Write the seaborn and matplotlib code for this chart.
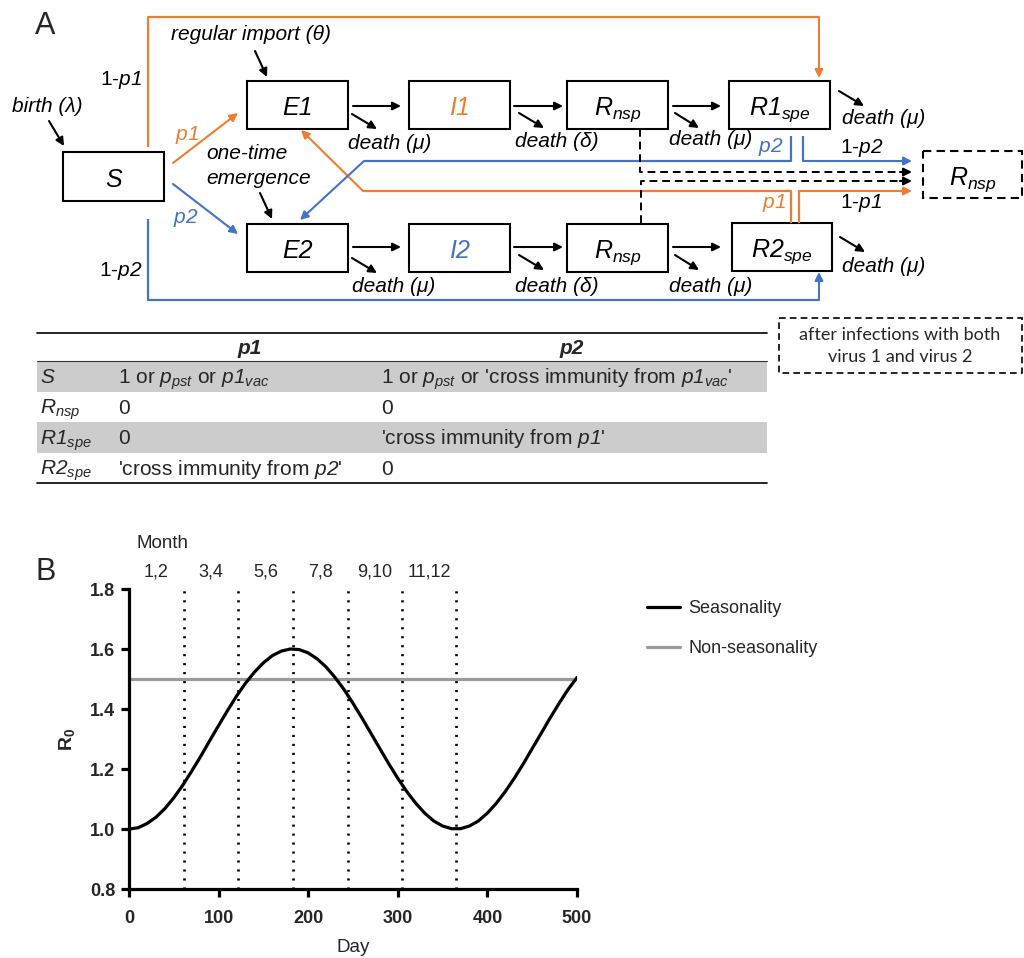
import numpy as np
import pandas as pd
import matplotlib
matplotlib.use('Agg')
import matplotlib.pyplot as plt
import matplotlib.transforms as mtransforms
from matplotlib.patches import Rectangle
import seaborn as sns

# ---------------- data (panel B) ----------------
days = list(range(0, 501, 10))
r0_seasonal = [1.000, 1.004, 1.018, 1.039, 1.068, 1.104, 1.146, 1.193, 1.242, 1.294,
               1.345, 1.395, 1.443, 1.486, 1.523, 1.554, 1.578, 1.593, 1.600, 1.598,
               1.587, 1.567, 1.540, 1.505, 1.465, 1.419, 1.370, 1.319, 1.268, 1.217,
               1.169, 1.125, 1.086, 1.053, 1.027, 1.010, 1.001, 1.001, 1.010, 1.027,
               1.053, 1.086, 1.125, 1.169, 1.217, 1.268, 1.319, 1.370, 1.419, 1.465, 1.505]
days_nonseasonal = [0, 500]
r0_nonseasonal = [1.5, 1.5]
series_names = ['Seasonality', 'Non-seasonality']
month_bounds = [61, 122, 183, 244, 305, 365]
month_labels = ['1,2', '3,4', '5,6', '7,8', '9,10', '11,12']
x_ticks = [0, 100, 200, 300, 400, 500]
y_ticks = [0.8, 1.0, 1.2, 1.4, 1.6, 1.8]

# ---------------- data (panel A table) ----------------
table_cols = ['p1', 'p2']
table_rows = ['$S$', '$R_{nsp}$', '$R1_{spe}$', '$R2_{spe}$']
table_p1 = ["1 or $p_{pst}$ or $p1_{vac}$", '0', '0', "'cross immunity from $p2$'"]
table_p2 = ["1 or $p_{pst}$ or 'cross immunity from $p1_{vac}$'", '0',
            "'cross immunity from $p1$'", '0']

sns.set_theme(style='ticks')
plt.rcParams['font.family'] = ['Liberation Sans', 'DejaVu Sans']
plt.rcParams['mathtext.fontset'] = 'custom'
plt.rcParams['mathtext.rm'] = 'Liberation Sans:italic'
plt.rcParams['mathtext.it'] = 'Liberation Sans:italic'
plt.rcParams['mathtext.bf'] = 'Liberation Sans:bold'

ORANGE = '#ED7D31'
BLUE = '#4472C4'

fig = plt.figure(figsize=(10.24, 9.58), dpi=100)
dg = fig.add_axes([0, 0, 1, 1])
dg.set_xlim(0, 1024)
dg.set_ylim(958, 0)
dg.axis('off')


def box(x0, y0, x1, y1, label, color='black', dashed=False, fs=18):
    dg.add_patch(Rectangle((x0, y0), x1 - x0, y1 - y0, fill=False, ec='black',
                           lw=1.5, ls=(0, (4, 2.5)) if dashed else '-'))
    dg.text((x0 + x1) / 2, (y0 + y1) / 2 + 10, label, ha='center', va='baseline',
            fontsize=fs, color=color, style='italic')


def arrow(x0, y0, x1, y1, color='black', lw=1.5, ms=12):
    dg.annotate('', xy=(x1, y1), xytext=(x0, y0),
                arrowprops=dict(arrowstyle='-|>', color=color, lw=lw, shrinkA=0,
                                shrinkB=0, mutation_scale=ms))


def poly(pts, color, lw=1.6, ls='-'):
    xs, ys = zip(*pts)
    dg.plot(xs, ys, color=color, lw=lw, ls=ls, solid_capstyle='butt')


def label(x, y, s, color='black', fs=15, style='italic', ha='left'):
    dg.text(x, y, s, color=color, fontsize=fs, style=style, ha=ha, va='center')


# panel letters
dg.text(45, 26, 'A', fontsize=22, ha='center', va='center')
dg.text(46, 572, 'B', fontsize=22, ha='center', va='center')

# boxes
box(63, 152, 164, 201, 'S')
box(247, 81, 348, 129, 'E1')
box(409, 81, 510, 129, 'I1', color=ORANGE)
box(567, 81, 668, 129, '$R_{nsp}$')
box(729, 81, 830, 129, '$R1_{spe}$')
box(247, 224, 348, 272, 'E2')
box(409, 224, 510, 272, 'I2', color=BLUE)
box(567, 224, 668, 272, '$R_{nsp}$')
box(732, 223, 832, 271, '$R2_{spe}$')
box(923, 151, 1022, 198, '$R_{nsp}$', dashed=True)

# horizontal flow arrows
for yy in (106, 247):
    arrow(353, yy, 401, yy)
    arrow(514, yy, 563, yy)
    arrow(673, yy, 721, yy)

# death arrows and labels
arrow(352, 114, 377, 129); label(348, 143, 'death (μ)')
arrow(519, 113, 544, 128); label(515, 141, 'death (δ)')
arrow(675, 113, 699, 128); label(669, 139, 'death (μ)')
arrow(839, 91, 864, 106); label(842, 118, 'death (μ)')
arrow(352, 258, 377, 273); label(352, 287, 'death (μ)')
arrow(519, 255, 544, 270); label(515, 287, 'death (δ)')
arrow(675, 255, 699, 270); label(669, 287, 'death (μ)')
arrow(840, 237, 865, 252); label(842, 267, 'death (μ)')

# inputs
arrow(49, 121, 64, 146); label(12, 106, 'birth (λ)')
arrow(255, 51, 267, 77); label(171, 34, 'regular import (θ)')
arrow(260, 193, 272, 219); label(206, 153, 'one-time'); label(206, 178, 'emergence')

# S -> E1 / E2
arrow(173, 163, 238, 113, color=ORANGE); label(175, 135, '$p1$', color=ORANGE)
arrow(173, 184, 238, 234, color=BLUE); label(173, 218, '$p2$', color=BLUE)

# S -> R1spe (1-p1), S -> R2spe (1-p2)
poly([(148, 147), (148, 17), (819, 17)], ORANGE)
arrow(819, 17, 819, 78, color=ORANGE)
label(100, 80, '1-$p1$', style='normal')
poly([(148, 219), (148, 300), (819, 300)], BLUE)
arrow(819, 300, 819, 272, color=BLUE)
label(99, 271, '1-$p2$', style='normal')

# R2spe -> E1 (p1), R1spe -> E2 (p2)
poly([(791, 223), (791, 191), (363, 191)], ORANGE)
arrow(363, 191, 301, 130, color=ORANGE)
label(762, 203, '$p1$', color=ORANGE)
poly([(791, 136), (791, 161), (364, 161)], BLUE)
arrow(364, 161, 300, 220, color=BLUE)
label(758, 147, '$p2$', color=BLUE)

# to dashed Rnsp
poly([(803, 136), (803, 161)], BLUE)
arrow(803, 161, 912, 161, color=BLUE)
label(840, 148, '1-$p2$', style='normal')
poly([(799, 223), (799, 191)], ORANGE)
arrow(799, 191, 912, 191, color=ORANGE)
label(840, 203, '1-$p1$', style='normal')
poly([(640, 129), (640, 172), (902, 172)], 'black', lw=1.4, ls=(0, (4, 2.5)))
arrow(900, 172, 912, 172)
poly([(641, 223), (641, 181), (902, 181)], 'black', lw=1.4, ls=(0, (4, 2.5)))
arrow(900, 181, 912, 181)

# note box
dg.add_patch(Rectangle((779, 318), 243, 55, fill=False, ec='black', lw=1.2,
                       ls=(0, (4, 2.5))))
dg.text(900, 346, 'after infections with both\nvirus 1 and virus 2', ha='center',
        va='center', fontsize=13, family=['Lato', 'DejaVu Sans'], linespacing=1.5)

# table
tx0, tx1 = 37, 767
row_edges = [361, 391.5, 422, 452.5, 483]
for i in (0, 2):
    dg.add_patch(Rectangle((tx0, row_edges[i]), tx1 - tx0, row_edges[i + 1] - row_edges[i],
                           fc='#CCCCCC', ec='none'))
dg.plot([tx0, tx1], [333, 333], color='black', lw=1.2)
dg.plot([tx0, tx1], [361, 361], color='#333333', lw=0.8)
dg.plot([tx0, tx1], [483, 483], color='black', lw=1.2)
dg.text(250, 348, table_cols[0], ha='center', va='center', fontsize=15,
        fontweight='bold', style='italic')
dg.text(572, 348, table_cols[1], ha='center', va='center', fontsize=15,
        fontweight='bold', style='italic')
for i in range(len(table_rows)):
    yb = (row_edges[i] + row_edges[i + 1]) / 2 + 7
    dg.text(40, yb, table_rows[i], ha='left', va='baseline', fontsize=15)
    dg.text(118, yb, table_p1[i], ha='left', va='baseline', fontsize=15)
    dg.text(381, yb, table_p2[i], ha='left', va='baseline', fontsize=15)

# ---------------- panel B ----------------
ax = fig.add_axes([129 / 1024, 1 - 889 / 958, 448 / 1024, 300 / 958])
df = pd.DataFrame({
    'Day': days + days_nonseasonal,
    'R0': r0_seasonal + r0_nonseasonal,
    'Series': [series_names[0]] * len(days) + [series_names[1]] * len(days_nonseasonal),
})
sns.lineplot(data=df, x='Day', y='R0', hue='Series', hue_order=series_names,
             palette={series_names[0]: 'black', series_names[1]: '#9B9B9B'},
             lw=2.3, ax=ax, sort=False)
for ln in ax.get_lines():
    if ln.get_color() == '#9B9B9B':
        ln.set_zorder(1.5)

for b in month_bounds:
    ax.axvline(b, color='black', lw=1.9, ls=(0, (0.8, 2.6)), zorder=1)

ax.set_xlim(0, 500)
ax.set_ylim(0.8, 1.8)
ax.set_xticks(x_ticks)
ax.set_yticks(y_ticks)
ax.set_xticklabels([str(v) for v in x_ticks], fontweight='bold', fontsize=13)
ax.set_yticklabels([f'{v:.1f}' for v in y_ticks], fontweight='bold', fontsize=13)
sns.despine(ax=ax)
for sp in ('left', 'bottom'):
    ax.spines[sp].set_linewidth(2.3)
    ax.spines[sp].set_color('black')
ax.tick_params(direction='out', length=6, width=2.3, color='black', pad=4)
ax.tick_params(axis='x', pad=9)

ax.set_xlabel('Day', fontsize=13.5)
ax.xaxis.set_label_coords(0.5, (889 - 947) / 300)
ax.xaxis.label.set_va('center')
ax.set_ylabel(r'$\mathbf{R_0}$', fontsize=14)
ax.yaxis.set_label_coords((67 - 129) / 448, 0.5)
ax.yaxis.label.set_va('center')

trans = mtransforms.blended_transform_factory(ax.transData, ax.transAxes)
prev = 0
for b, lab in zip(month_bounds, month_labels):
    ax.text((prev + b) / 2, (889 - 572) / 300, lab, transform=trans, ha='center',
            va='center', fontsize=13, clip_on=False)
    prev = b
ax.text((137 - 129) / 448, (889 - 544) / 300, 'Month', transform=ax.transAxes,
        ha='left', va='center', fontsize=13.5)

handles, labels = ax.get_legend_handles_labels()
ax.legend(handles, labels, loc='upper left', bbox_to_anchor=(647 / 1024, 1 - 600 / 958),
          bbox_transform=fig.transFigure, frameon=False, fontsize=13,
          handlelength=1.8, handletextpad=0.5, labelspacing=1.3, borderpad=0,
          borderaxespad=0)

fig.savefig('out.png', dpi=100)
